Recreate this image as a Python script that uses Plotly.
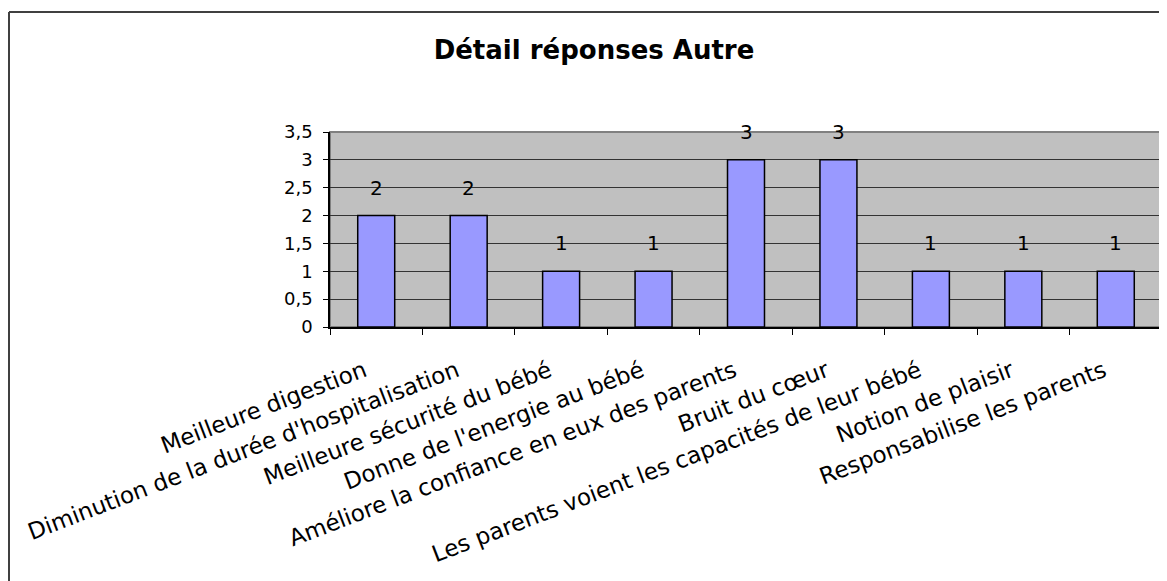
import plotly.graph_objects as go

categories = [
    "Meilleure digestion",
    "Diminution de la durée d'hospitalisation",
    "Meilleure sécurité du bébé",
    "Donne de l'energie au bébé",
    "Améliore la confiance en eux des parents",
    "Bruit du cœur",
    "Les parents voient les capacités de leur bébé",
    "Notion de plaisir",
    "Responsabilise les parents",
]
counts = [2, 2, 1, 1, 3, 3, 1, 1, 1]
title_text = "Détail réponses Autre"

# page puts the plot 8px in from the corner, so size the figure to fit
W, H = 1159, 573
L, R, T, B = 322, 5, 124, 254
pw, ph = W - L - R, H - T - B

font = "DejaVu Sans, Liberation Sans, Arial, sans-serif"

fig = go.Figure()
fig.add_trace(go.Bar(
    x=categories, y=counts,
    marker=dict(color="#9999FF", line=dict(color="black", width=1.5)),
    hoverinfo="x+y",
))

# value labels above bars
for c, v in zip(categories, counts):
    fig.add_annotation(x=c, y=v, text=str(v), showarrow=False,
                       yanchor="bottom", yshift=14,
                       font=dict(family=font, size=20, color="black"))

# plot area border (gray) and outer chart frame (top / left)
fig.add_shape(type="rect", xref="paper", yref="paper", x0=0, x1=1, y0=0, y1=1,
              line=dict(color="#808080", width=2), layer="below")
fy = (H - B - 4) / ph
fx = (1 - L) / pw
fig.add_shape(type="line", xref="paper", yref="paper",
              x0=fx, x1=fx, y0=fy, y1=-(B + 10) / ph,
              line=dict(color="#404040", width=2))
fig.add_shape(type="line", xref="paper", yref="paper",
              x0=fx, x1=(W + 10 - L) / pw, y0=fy, y1=fy,
              line=dict(color="#404040", width=2))

fig.update_layout(
    width=W, height=H,
    margin=dict(l=L, r=R, t=T, b=B),
    paper_bgcolor="white",
    plot_bgcolor="#C0C0C0",
    separators=", ",
    showlegend=False,
    bargap=0.6,
    font=dict(family=font, color="black"),
    title=dict(text=f"<b>{title_text}</b>", x=586 / W, xanchor="center",
               y=1 - 42 / H, yanchor="middle",
               font=dict(family=font, size=26, color="black")),
    xaxis=dict(
        type="category",
        tickangle=-21,
        tickson="boundaries",
        ticks="outside", ticklen=6, tickcolor="black",
        showline=True, linecolor="black", linewidth=1.5,
        showgrid=False,
        tickfont=dict(family=font, size=23, color="black"),
        ticklabelstandoff=20,
        ticklabelshift=-12,
    ),
    yaxis=dict(
        range=[0, 3.5], dtick=0.5,
        ticks="outside", ticklen=5, tickcolor="black",
        showline=True, linecolor="black", linewidth=1.5,
        showgrid=True, gridcolor="#333333", gridwidth=1,
        zeroline=False,
        tickfont=dict(family=font, size=18, color="black"),
        tickformat=".1~f",
        ticklabelstandoff=7,
    ),
)

fig.write_html("out.html")
